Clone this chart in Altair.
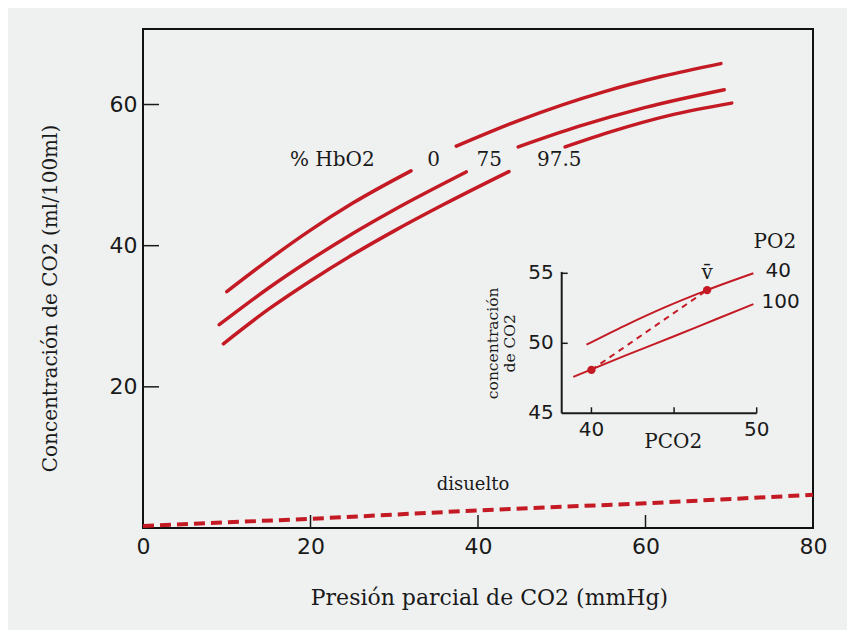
import altair as alt
import pandas as pd

RED = "#c41a24"
BG = "#eff1f1"
INK = "#1a1a1a"
SERIF = "DejaVu Serif"
SANS = "DejaVu Sans"

# ---- main chart data ----
c0_x1 = [10, 15, 20, 25, 32]
c0_y1 = [33.5, 38.0, 42.2, 46.0, 50.6]
c0_x2 = [37.4, 45, 55, 62, 69]
c0_y2 = [54.1, 57.8, 61.8, 64.0, 65.8]
c75_x1 = [9.1, 15, 20, 25, 30, 38.6]
c75_y1 = [28.8, 34.0, 38.0, 41.7, 45.1, 50.45]
c75_x2 = [44.8, 52, 60, 69.4]
c75_y2 = [54.0, 56.9, 59.6, 62.1]
c975_x1 = [9.6, 15, 20, 25, 30, 36, 43.7]
c975_y1 = [26.1, 31.0, 35.0, 38.7, 42.1, 45.9, 50.5]
c975_x2 = [50.4, 56, 63, 70.3]
c975_y2 = [54.0, 56.2, 58.5, 60.2]

dis_x = [0, 20, 40, 60, 80]
dis_y = [0.3, 1.3, 2.5, 3.5, 4.7]

lab_text = ["% HbO2", "0", "75", "97.5", "disuelto"]
lab_x = [22.6, 34.7, 41.35, 49.7, 39.4]
lab_y = [52.1, 52.1, 52.1, 52.1, 6.1]
lab_size = [20, 20, 20, 20, 18]

x_ticks = [0, 20, 40, 60, 80]
y_ticks = [20, 40, 60]
inner_ticks = [20, 40, 60]

# ---- inset data ----
po2_40_x = [39.7, 42, 44.5, 47.0, 49.8]
po2_40_y = [49.9, 51.25, 52.6, 53.8, 55.0]
po2_100_x = [38.9, 42, 45, 47.5, 49.8]
po2_100_y = [47.6, 49.1, 50.5, 51.7, 52.8]
av_x = [40.0, 47.0]
av_y = [48.1, 53.8]
in_xticks = [40, 50]
in_xminor = [40, 45, 50]
in_yticks = [45, 50, 55]
serif_text = ["PO2", "v\u0304", "PCO2"]
serif_x = [51.1, 47.0, 44.95]
serif_y = [57.26, 55.0, 42.97]
sans_text = ["40", "100"]
sans_x = [51.3, 51.45]
sans_y = [55.19, 52.97]
in_dom_x = [38.2, 50.0]
in_dom_y = [45, 55.1]

# ---- build tables ----
rows = []
for name, xs, ys in [("0a", c0_x1, c0_y1), ("0b", c0_x2, c0_y2),
                     ("75a", c75_x1, c75_y1), ("75b", c75_x2, c75_y2),
                     ("97a", c975_x1, c975_y1), ("97b", c975_x2, c975_y2)]:
    for a, b in zip(xs, ys):
        rows.append({"x": a, "y": b, "seg": name})
curves = pd.DataFrame(rows)
dis = pd.DataFrame({"x": dis_x, "y": dis_y})
labs = pd.DataFrame({"x": lab_x, "y": lab_y, "t": lab_text, "s": lab_size})

xs_main = alt.Scale(domain=[0, 80], nice=False, zero=False)
ys_main = alt.Scale(domain=[0, 70.7], nice=False, zero=False)

X = alt.X("x:Q", scale=xs_main, axis=alt.Axis(
    values=x_ticks, ticks=False, domain=False, grid=False,
    labelFont=SANS, labelFontSize=22, labelColor=INK, labelPadding=8,
    labelFlush=False, labelOverlap=False,
    title="Presión parcial de CO2 (mmHg)", titleFont=SERIF, titleFontSize=22,
    titleFontWeight="normal", titleColor=INK, titleX=346, titleY=69,
    titleBaseline="middle", titleAlign="center"))
Y = alt.Y("y:Q", scale=ys_main, axis=alt.Axis(
    values=y_ticks, ticks=False, domain=False, grid=False,
    labelFont=SANS, labelFontSize=22, labelColor=INK, labelPadding=6,
    labelOverlap=False,
    title="Concentración de CO2 (ml/100ml)", titleFont=SERIF, titleFontSize=20,
    titleFontWeight="normal", titleColor=INK, titleX=-93, titleY=269,
    titleAngle=270, titleBaseline="middle", titleAlign="center"))

curve_layer = alt.Chart(curves).mark_line(
    color=RED, strokeWidth=3.5, strokeCap="round", interpolate="monotone").encode(
    x=X, y=Y, detail="seg:N")
dis_layer = alt.Chart(dis).mark_line(color=RED, strokeWidth=4, strokeDash=[11, 6]).encode(x=X, y=Y)
lab_layer = alt.Chart(labs).mark_text(font=SERIF, color=INK, baseline="middle", align="center").encode(
    x=X, y=Y, text="t:N", size=alt.Size("s:Q", scale=None, legend=None))
xt_layer = alt.Chart(pd.DataFrame({"x": inner_ticks})).mark_rule(color=INK, strokeWidth=1.5).encode(
    x=X, y=alt.value(499), y2=alt.value(486))
yt_layer = alt.Chart(pd.DataFrame({"y": inner_ticks})).mark_rule(color=INK, strokeWidth=1.5).encode(
    y=Y, x=alt.value(0), x2=alt.value(16))

main = alt.layer(curve_layer, dis_layer, lab_layer, xt_layer, yt_layer)

# ---- inset ----
ix = alt.Scale(domain=in_dom_x, range=[418.7, 613.7], nice=False, zero=False)
iy = alt.Scale(domain=[45, 55], range=[384.3, 244.3], nice=False, zero=False)
IX = alt.X("x:Q", scale=ix, axis=None)
IY = alt.Y("y:Q", scale=iy, axis=None)

inset_lines = pd.DataFrame(
    [{"x": a, "y": b, "seg": "40"} for a, b in zip(po2_40_x, po2_40_y)] +
    [{"x": a, "y": b, "seg": "100"} for a, b in zip(po2_100_x, po2_100_y)])
il = alt.Chart(inset_lines).mark_line(color=RED, strokeWidth=2, interpolate="monotone").encode(
    x=IX, y=IY, detail="seg:N")
ad = alt.Chart(pd.DataFrame({"x": av_x, "y": av_y})).mark_line(
    color=RED, strokeWidth=2, strokeDash=[6, 5]).encode(x=IX, y=IY)
ap = alt.Chart(pd.DataFrame({"x": av_x, "y": av_y})).mark_point(
    color=RED, filled=True, size=70, opacity=1).encode(x=IX, y=IY)

ax_v = alt.Chart(pd.DataFrame({"x": [in_dom_x[0]], "y": [in_dom_y[0]], "y2": [in_dom_y[1]]})).mark_rule(
    color=INK, strokeWidth=2).encode(x=IX, y=IY, y2="y2:Q")
ax_h = alt.Chart(pd.DataFrame({"x": [in_dom_x[0]], "x2": [in_dom_x[1]], "y": [in_dom_y[0]]})).mark_rule(
    color=INK, strokeWidth=2).encode(x=IX, x2="x2:Q", y=IY)
tk_x = alt.Chart(pd.DataFrame({"x": in_xminor, "y": [45] * len(in_xminor)})).mark_rule(
    color=INK, strokeWidth=1.5, y2Offset=-6).encode(x=IX, y=IY, y2="y:Q")
tk_y = alt.Chart(pd.DataFrame({"x": [in_dom_x[0]] * 2, "y": [50, 55]})).mark_rule(
    color=INK, strokeWidth=1.5, x2Offset=6).encode(x=IX, x2="x:Q", y=IY)

txl = alt.Chart(pd.DataFrame({"x": in_xticks, "y": [45] * len(in_xticks), "t": [str(v) for v in in_xticks]})).mark_text(
    font=SANS, fontSize=20, color=INK, baseline="middle", align="center", dy=17).encode(x=IX, y=IY, text="t:N")
tyl = alt.Chart(pd.DataFrame({"x": [in_dom_x[0]] * len(in_yticks), "y": in_yticks, "t": [str(v) for v in in_yticks]})).mark_text(
    font=SANS, fontSize=20, color=INK, baseline="middle", align="right", dx=-8).encode(x=IX, y=IY, text="t:N")
slab = alt.Chart(pd.DataFrame({"x": serif_x, "y": serif_y, "t": serif_text})).mark_text(
    font=SERIF, fontSize=20, color=INK, baseline="middle", align="center").encode(x=IX, y=IY, text="t:N")
nlab = alt.Chart(pd.DataFrame({"x": sans_x, "y": sans_y, "t": sans_text})).mark_text(
    font=SANS, fontSize=20, color=INK, baseline="middle", align="center").encode(x=IX, y=IY, text="t:N")
ititle = alt.Chart(pd.DataFrame({"x": [34.04], "y": [50.0], "t": ["concentración\nde CO2"]})).mark_text(
    font=SERIF, fontSize=15.5, color=INK, angle=270, baseline="middle", align="center", lineBreak="\n",
    lineHeight=17).encode(x=IX, y=IY, text="t:N")

inset = alt.layer(il, ad, ap, ax_v, ax_h, tk_x, tk_y, txl, tyl, slab, nlab, ititle)

chart = alt.layer(main, inset).resolve_scale(x="independent", y="independent").properties(
    width=670, height=499, background=BG,
    padding={"left": 135, "top": 21, "right": 34, "bottom": 102},
    autosize=alt.AutoSizeParams(type="none"),
).configure_view(stroke="#111111", strokeWidth=2)

chart.save("out.html", embed_options={"renderer": "svg", "actions": False})
